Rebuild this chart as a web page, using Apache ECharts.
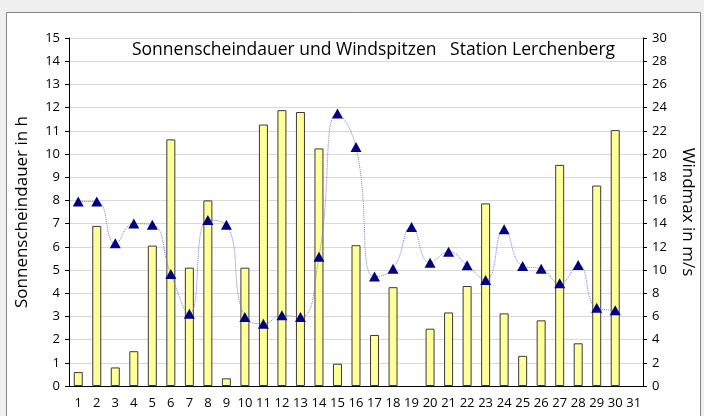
<!DOCTYPE html>
<html>
<head>
<meta charset="utf-8">
<script src="https://cdn.jsdelivr.net/npm/echarts@6/dist/echarts.min.js"></script>
<style>
  html, body { margin: 0; padding: 0; background: #f0f0f0; }
  #main { width: 704px; height: 416px; }
</style>
</head>
<body>
<div id="main"></div>
<script>
// Tage im Monat
var days = [];
for (var d = 1; d <= 31; d++) days.push(String(d));

// Sonnenscheindauer in h (linke Achse), Tag 19 und 31 ohne Balken
var sonne = [0.6, 6.9, 0.8, 1.5, 6.05, 10.63, 5.1, 8.0, 0.33, 5.1,
             11.27, 11.89, 11.81, 10.24, 0.96, 6.07, 2.2, 4.26, '-', 2.47,
             3.17, 4.31, 7.87, 3.13, 1.3, 2.83, 9.53, 1.84, 8.64, 11.03, '-'];

// Windmax in m/s (rechte Achse)
var wind = [15.9, 15.9, 12.3, 14.0, 13.9, 9.66, 6.23, 14.3, 13.9, 5.94,
            5.37, 6.09, 5.94, 11.14, 23.5, 20.6, 9.43, 10.11, 13.71, 10.63,
            11.57, 10.4, 9.14, 13.51, 10.34, 10.11, 8.86, 10.43, 6.74, 6.54, '-'];

var txtFont = 'Open Sans';

var myChart = echarts.init(document.getElementById('main'));
var option = {
    backgroundColor: '#f0f0f0',
    animation: false,
    textStyle: { fontFamily: txtFont },
    title: {
        text: 'Sonnenscheindauer und Windspitzen   Station Lerchenberg',
        left: 127,
        top: 36,
        textStyle: { fontFamily: txtFont, fontSize: 17.5, fontWeight: 'normal', color: '#000' }
    },
    graphic: [{
        type: 'rect',
        z: -10,
        shape: { x: 6.5, y: 12.5, width: 694, height: 420 },
        style: { fill: '#fff', stroke: '#868686', lineWidth: 1 }
    }],
    grid: { left: 69, right: 56, top: 38, bottom: 30 },
    xAxis: {
        type: 'category',
        data: days,
        axisLine: { lineStyle: { color: '#000' } },
        axisTick: { length: 5, lineStyle: { color: '#000' } },
        axisLabel: { interval: 0, color: '#000', fontSize: 13, margin: 11 }
    },
    yAxis: [{
        type: 'value',
        min: 0, max: 15, interval: 1,
        name: 'Sonnenscheindauer in h',
        nameLocation: 'middle',
        nameRotate: 90,
        nameGap: 38,
        nameTextStyle: { fontSize: 17, color: '#000' },
        axisLine: { show: true, lineStyle: { color: '#000' } },
        axisTick: { show: true, length: 4, lineStyle: { color: '#000' } },
        axisLabel: { color: '#000', fontSize: 13, margin: 9 },
        splitLine: { lineStyle: { color: '#d9d9d9' } }
    }, {
        type: 'value',
        min: 0, max: 30, interval: 2,
        name: 'Windmax in m/s',
        nameLocation: 'middle',
        nameRotate: -90,
        nameGap: 36,
        nameTextStyle: { fontSize: 17, color: '#000' },
        axisLine: { show: true, lineStyle: { color: '#000' } },
        axisTick: { show: true, length: 4, lineStyle: { color: '#000' } },
        axisLabel: { color: '#000', fontSize: 13, margin: 9 },
        splitLine: { show: false }
    }],
    series: [{
        name: 'Sonnenscheindauer',
        type: 'bar',
        yAxisIndex: 0,
        data: sonne,
        barWidth: 9,
        itemStyle: { color: '#ffff99', borderColor: '#3a3a3a', borderWidth: 1 }
    }, {
        name: 'Windmax',
        type: 'line',
        yAxisIndex: 1,
        data: wind,
        smooth: 0.5,
        symbol: 'triangle',
        symbolSize: [11, 10],
        itemStyle: { color: '#000080' },
        lineStyle: { color: '#7b7bd6', width: 1, type: 'dotted' }
    }]
};
myChart.setOption(option);
</script>
</body>
</html>
